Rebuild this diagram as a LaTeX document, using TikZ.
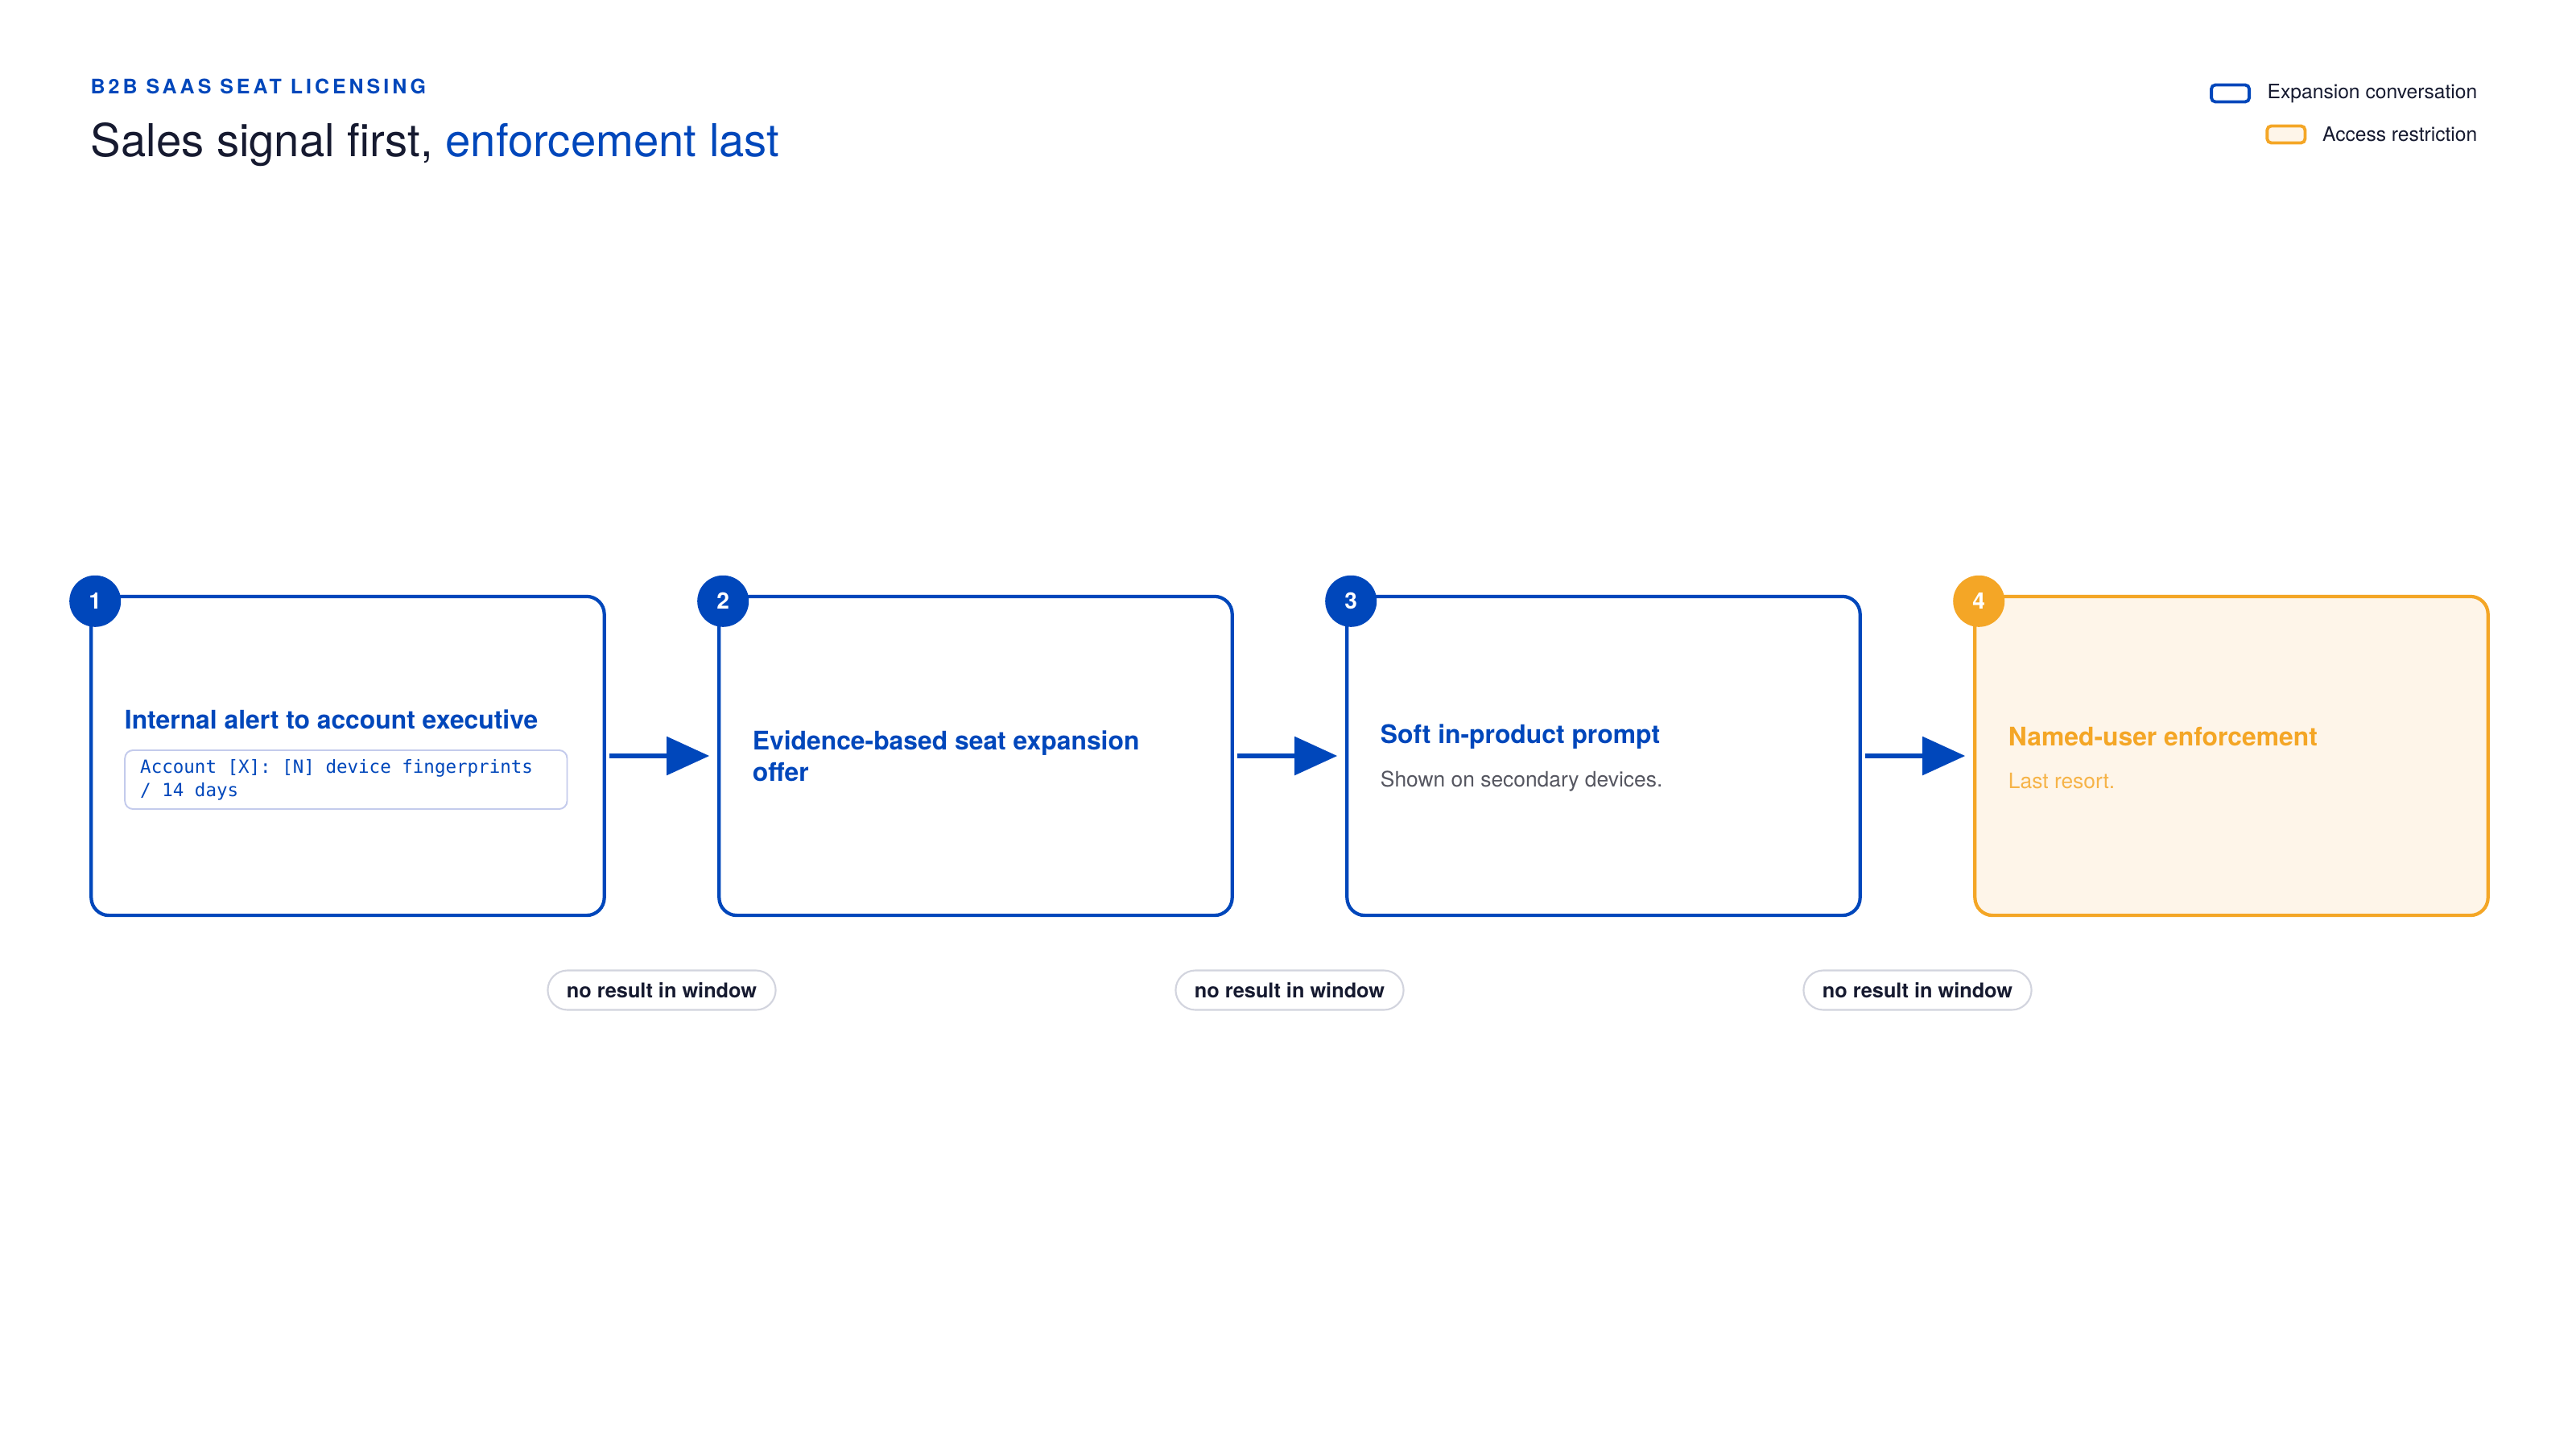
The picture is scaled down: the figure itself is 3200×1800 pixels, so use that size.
\documentclass[tikz,border=0pt]{standalone}
\usepackage{fontspec}
\setmainfont{TeX Gyre Heros}
\newfontfamily\codefont{DejaVu Sans Mono}
\newfontfamily\eyebrowfont[LetterSpace=16]{TeX Gyre Heros}
\usetikzlibrary{arrows.meta,positioning}

\definecolor{brandblue}{RGB}{0,71,187}
\definecolor{inkblack}{RGB}{22,26,48}
\definecolor{warnorange}{RGB}{244,166,38}
\definecolor{warnfill}{RGB}{254,245,233}
\definecolor{notegrey}{RGB}{85,86,96}
\definecolor{pillgrey}{RGB}{210,212,222}
\definecolor{codeline}{RGB}{196,203,236}

\tikzset{
  stage/.style={draw=brandblue, line width=1.2pt, rounded corners=0.22cm,
    minimum width=6.37cm, minimum height=3.96cm, fill=white, inner sep=0pt},
  laststage/.style={stage, draw=warnorange, fill=warnfill},
  badge/.style={circle, fill=brandblue, text=white, minimum size=0.64cm,
    inner sep=0pt, font=\bfseries\fontsize{8}{8}\selectfont},
  stagetitle/.style={anchor=west, inner sep=0pt, align=left, text=brandblue,
    font=\bfseries\fontsize{9.05}{11.1}\selectfont},
  stagenote/.style={anchor=west, inner sep=0pt, text=notegrey,
    font=\fontsize{7.5}{9}\selectfont},
  codebox/.style={anchor=north west, draw=codeline, line width=0.55pt,
    rounded corners=0.1cm, minimum width=5.49cm, minimum height=0.73cm,
    inner xsep=0.19cm, inner ysep=0pt,
    text=brandblue, font=\codefont\fontsize{6.4}{8.25}\selectfont},
  flow/.style={-{Triangle[length=0.53cm,width=0.47cm]}, draw=brandblue,
    line width=1.55pt, shorten <=0.04cm, shorten >=0.1cm},
  pill/.style={draw=pillgrey, line width=0.6pt, rounded corners=0.245cm,
    minimum width=2.83cm, minimum height=0.49cm, inner sep=0pt, fill=white,
    text=inkblack, font=\bfseries\fontsize{7.2}{8}\selectfont},
  swatch/.style={draw=brandblue, line width=1.1pt, rounded corners=0.05cm,
    minimum width=0.47cm, minimum height=0.21cm, inner sep=0pt, fill=white},
  legendtext/.style={inner sep=0pt, text=inkblack, font=\fontsize{7}{8}\selectfont}
}

\begin{document}
\begin{tikzpicture}[x=0.01cm, y=-0.01cm]
  \useasboundingbox[fill=white] (0,0) rectangle (3200,1800);

  % --- heading ---
  \node[anchor=base west, inner sep=0pt, text=brandblue,
    font=\eyebrowfont\bfseries\fontsize{7.1}{8}\selectfont] (eyebrow) at (112,117)
    {B2B SAAS SEAT LICENSING};
  \node[anchor=base west, inner sep=0pt, text=inkblack,
    font=\fontsize{16}{19}\selectfont] (headline) at (112,195)
    {Sales signal first, \textcolor{brandblue}{enforcement last}};

  % --- legend ---
  \node[legendtext, anchor=east] (lgexp) at (3078,116) {Expansion conversation};
  \node[swatch, left=0.2cm of lgexp] (swexp) {};
  \node[legendtext, anchor=east] (lgacc) at (3078,167) {Access restriction};
  \node[swatch, draw=warnorange, fill=warnfill, left=0.19cm of lgacc] (swacc) {};

  % --- stages ---
  \node[stage] (s1) at (432,939) {};
  \node[stage] (s2) at (1212,939) {};
  \node[stage] (s3) at (1992,939) {};
  \node[laststage] (s4) at (2772,939) {};

  % step 1: alert
  \node[stagetitle] (t1) at ([xshift=0.43cm, yshift=0.45cm]s1.west)
    {Internal alert to account executive};
  \node[codebox] (c1) at ([xshift=0.43cm, yshift=0.08cm]s1.west)
    {\parbox{5.11cm}{Account [X]: [N] device fingerprints\\/ 14 days}};

  % step 2: offer
  \node[stagetitle] (t2) at ([xshift=0.43cm]s2.west)
    {Evidence-based seat expansion\\offer};

  % step 3: prompt
  \node[stagetitle] (t3) at ([xshift=0.43cm, yshift=0.24cm]s3.west)
    {Soft in-product prompt};
  \node[stagenote] (n3) at ([xshift=0.43cm, yshift=-0.31cm]s3.west)
    {Shown on secondary devices.};

  % step 4: enforcement
  \node[stagetitle, text=warnorange] (t4) at ([xshift=0.43cm, yshift=0.24cm]s4.west)
    {Named-user enforcement};
  \node[stagenote, text=warnorange!85] (n4) at ([xshift=0.43cm, yshift=-0.31cm]s4.west)
    {Last resort.};

  % --- numbered badges ---
  \node[badge] (b1) at ([xshift=0.07cm, yshift=-0.08cm]s1.north west) {1};
  \node[badge] (b2) at ([xshift=0.07cm, yshift=-0.08cm]s2.north west) {2};
  \node[badge] (b3) at ([xshift=0.07cm, yshift=-0.08cm]s3.north west) {3};
  \node[badge, fill=warnorange] (b4) at ([xshift=0.07cm, yshift=-0.08cm]s4.north west) {4};

  % --- escalation arrows ---
  \draw[flow] (s1) -- (s2);
  \draw[flow] (s2) -- (s3);
  \draw[flow] (s3) -- (s4);

  % --- timeout pills ---
  \node[pill] (p12) at (822,1230) {no result in window};
  \node[pill] (p23) at (1602,1230) {no result in window};
  \node[pill] (p34) at (2382,1230) {no result in window};
\end{tikzpicture}
\end{document}
